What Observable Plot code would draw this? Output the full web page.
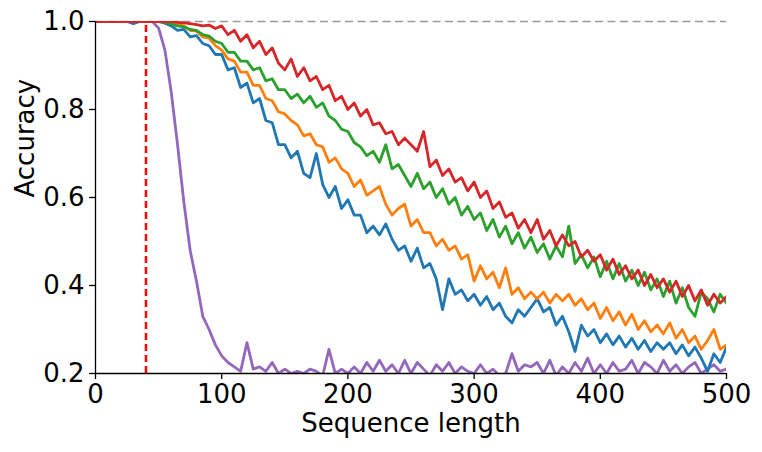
<!DOCTYPE html>
<html><head><meta charset="utf-8">
<script src="https://cdn.jsdelivr.net/npm/d3@7"></script>
<script src="https://cdn.jsdelivr.net/npm/@observablehq/plot@0.6"></script>
<style>body{margin:0;background:#fff} svg{font-family:"DejaVu Sans",sans-serif}</style>
</head><body><div id="chart"></div>
<script>
// Sequence lengths (x grid)
const lengths = [0,5,10,15,20,25,30,35,40,45,50,55,60,65,70,75,80,85,90,95,
100,105,110,115,120,125,130,135,140,145,150,155,160,165,170,175,180,185,190,195,
200,205,210,215,220,225,230,235,240,245,250,255,260,265,270,275,280,285,290,295,
300,305,310,315,320,325,330,335,340,345,350,355,360,365,370,375,380,385,390,395,
400,405,410,415,420,425,430,435,440,445,450,455,460,465,470,475,480,485,490,495,500];

const accBlue = [1,1,1,1,1,1,0.995,1,1,1,
1,0.996,0.99,0.98,0.982,0.965,0.968,0.95,0.945,0.925,
0.925,0.89,0.895,0.85,0.86,0.815,0.825,0.775,0.77,0.72,
0.72,0.69,0.705,0.655,0.645,0.70,0.63,0.60,0.625,0.575,
0.595,0.56,0.56,0.52,0.535,0.515,0.54,0.505,0.48,0.49,
0.455,0.485,0.44,0.45,0.415,0.345,0.415,0.38,0.39,0.365,
0.38,0.355,0.375,0.345,0.36,0.33,0.315,0.345,0.33,0.35,
0.37,0.34,0.35,0.31,0.33,0.295,0.25,0.31,0.285,0.30,
0.27,0.29,0.265,0.285,0.26,0.28,0.255,0.275,0.25,0.27,
0.255,0.27,0.245,0.265,0.24,0.26,0.235,0.205,0.245,0.225,0.26];

const accOrange = [1,1,1,1,1,1,1,1,1,1,
1,1,0.997,0.993,0.99,0.98,0.978,0.965,0.962,0.945,
0.935,0.915,0.91,0.885,0.885,0.855,0.855,0.825,0.82,0.795,
0.79,0.775,0.765,0.74,0.745,0.72,0.715,0.68,0.69,0.665,
0.655,0.625,0.64,0.605,0.615,0.625,0.585,0.56,0.575,0.585,
0.535,0.55,0.52,0.52,0.49,0.505,0.48,0.49,0.46,0.47,
0.41,0.445,0.415,0.43,0.395,0.44,0.38,0.395,0.37,0.385,
0.37,0.385,0.36,0.38,0.365,0.38,0.355,0.37,0.345,0.36,
0.325,0.35,0.32,0.34,0.31,0.335,0.30,0.32,0.295,0.31,
0.29,0.315,0.28,0.30,0.27,0.285,0.255,0.275,0.30,0.255,0.265];

const accGreen = [1,1,1,1,1,1,1,1,1,1,
1,0.998,0.994,0.99,0.988,0.982,0.98,0.97,0.967,0.955,
0.95,0.93,0.93,0.91,0.91,0.89,0.895,0.865,0.87,0.845,
0.845,0.825,0.835,0.815,0.83,0.805,0.815,0.785,0.775,0.755,
0.75,0.725,0.715,0.695,0.705,0.68,0.72,0.665,0.675,0.65,
0.625,0.655,0.62,0.635,0.60,0.62,0.585,0.60,0.56,0.58,
0.55,0.565,0.525,0.55,0.51,0.535,0.495,0.52,0.485,0.51,
0.475,0.495,0.46,0.49,0.465,0.535,0.45,0.47,0.44,0.465,
0.42,0.455,0.415,0.45,0.41,0.435,0.40,0.43,0.39,0.415,
0.375,0.41,0.36,0.395,0.35,0.33,0.385,0.37,0.34,0.38,0.36];

const accRed = [1,1,1,1,1,1,1,1,1,1,
1,1,1,0.998,0.997,0.995,0.993,0.99,0.992,0.984,
0.99,0.97,0.98,0.955,0.97,0.94,0.955,0.925,0.94,0.905,
0.89,0.915,0.875,0.895,0.865,0.875,0.845,0.855,0.82,0.83,
0.80,0.815,0.785,0.80,0.765,0.77,0.745,0.75,0.72,0.735,
0.72,0.705,0.75,0.67,0.685,0.65,0.665,0.635,0.645,0.615,
0.635,0.60,0.615,0.575,0.59,0.555,0.565,0.53,0.55,0.52,
0.55,0.505,0.525,0.49,0.515,0.49,0.50,0.465,0.48,0.455,
0.47,0.435,0.46,0.425,0.445,0.415,0.435,0.40,0.425,0.395,
0.415,0.385,0.41,0.375,0.40,0.365,0.39,0.355,0.38,0.36,0.375];

const accPurple = [1,1,1,1,1,1,1,1,1,1,
0.985,0.935,0.84,0.72,0.59,0.48,0.41,0.33,0.30,0.265,
0.24,0.225,0.215,0.205,0.27,0.21,0.215,0.205,0.225,0.2,
0.21,0.2,0.205,0.2,0.21,0.205,0.195,0.255,0.2,0.21,
0.2,0.215,0.2,0.225,0.205,0.23,0.205,0.22,0.2,0.23,
0.2,0.225,0.21,0.195,0.22,0.205,0.225,0.2,0.215,0.205,
0.2,0.22,0.2,0.21,0.195,0.2,0.245,0.205,0.22,0.215,
0.225,0.2,0.23,0.195,0.215,0.2,0.225,0.205,0.235,0.2,
0.22,0.2,0.225,0.205,0.21,0.23,0.2,0.225,0.215,0.2,
0.23,0.205,0.22,0.2,0.215,0.225,0.2,0.21,0.22,0.205,0.21];

const xTicks = [0,100,200,300,400,500];
const yTicks = [0.2,0.4,0.6,0.8,1.0];
const thresholdLength = 40;
const perfectAcc = 1.0;

const series = [
  {values: accPurple, color: "#9467bd"},
  {values: accBlue, color: "#1f77b4"},
  {values: accOrange, color: "#ff7f0e"},
  {values: accGreen, color: "#2ca02c"},
  {values: accRed, color: "#d62728"}
];

const lineMarks = series.map(s =>
  Plot.line(lengths.map((x, i) => ({x, y: s.values[i]})), {
    x: "x", y: "y", stroke: s.color, strokeWidth: 2.8, strokeLinejoin: "round", clip: true
  })
);

const chart = Plot.plot({
  width: 762, height: 452,
  marginLeft: 95, marginRight: 36, marginTop: 21, marginBottom: 79,
  style: {fontFamily: "DejaVu Sans", fontSize: "26px", background: "#fff", color: "#000"},
  x: {domain: [0, 500]},
  y: {domain: [0.2, 1.0]},
  marks: [
    Plot.ruleY([perfectAcc], {x1: 0, x2: 500, stroke: "#999", strokeWidth: 1.5, strokeDasharray: "8,4.5"}),
    ...lineMarks,
    Plot.ruleX([thresholdLength], {y1: 0.2, y2: 1.0, stroke: "#ff0000", strokeWidth: 2.5, strokeDasharray: "7,4"}),
    Plot.axisX({ticks: xTicks, tickFormat: d => String(d), tickSize: 6, tickPadding: 5, label: null, fontSize: 26, strokeWidth: 1.3}),
    Plot.axisY({ticks: yTicks, tickFormat: d => d.toFixed(1), tickSize: 6, tickPadding: 5, label: null, fontSize: 26, strokeWidth: 1.3}),
    Plot.ruleX([0], {y1: 0.2, y2: 1.0, stroke: "#000", strokeWidth: 1.3}),
    Plot.ruleY([0.2], {x1: 0, x2: 500, stroke: "#000", strokeWidth: 1.3}),
    Plot.text(["Sequence length"], {frameAnchor: "bottom", dy: 58, fontSize: 26, fill: "#000"}),
    Plot.text(["Accuracy"], {frameAnchor: "left", rotate: -90, dx: -70, fontSize: 26, fill: "#000"})
  ]
});
document.getElementById("chart").appendChild(chart);
</script>
</body></html>
